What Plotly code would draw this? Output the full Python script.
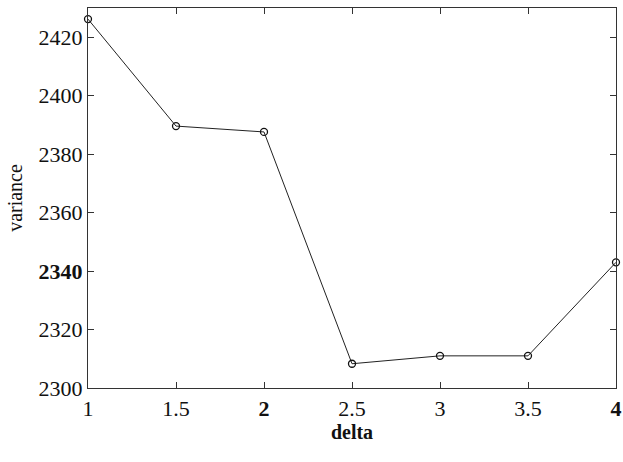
import plotly.graph_objects as go

delta = [1, 1.5, 2, 2.5, 3, 3.5, 4]
variance = [2426.2, 2389.6, 2387.6, 2308.3, 2311.0, 2311.0, 2343.0]

x_tickvals = [1, 1.5, 2, 2.5, 3, 3.5, 4]
x_ticktext = ["1", "1.5", "<b>2</b>", "2.5", "3", "3.5", "<b>4</b>"]
y_tickvals = [2300, 2320, 2340, 2360, 2380, 2400, 2420]
y_ticktext = ["2300", "2320", "<b>2340</b>", "2360", "2380", "2400", "2420"]

fig = go.Figure()
fig.add_trace(go.Scatter(
    x=delta, y=variance, mode="lines+markers",
    line=dict(color="#222222", width=1),
    marker=dict(symbol="circle-open", size=7, color="#111111", line=dict(width=1.3)),
    showlegend=False, cliponaxis=False,
))

SERIF = "Liberation Serif"
font = dict(family=SERIF, size=22, color="#111111")
fig.update_layout(
    width=623, height=462,
    margin=dict(l=88, r=7, t=8, b=74, autoexpand=False),
    paper_bgcolor="white", plot_bgcolor="white",
    font=font,
)
fig.update_xaxes(
    range=[1, 4], tickvals=x_tickvals, ticktext=x_ticktext, automargin=False,
    tickfont=dict(family=SERIF, size=22, color="#111111"),
    showline=True, linecolor="#333333", linewidth=1.2, mirror="ticks",
    ticks="inside", ticklen=6, tickcolor="#333333", showgrid=False, zeroline=False,
    title=dict(text="<b>delta</b>", font=dict(family=SERIF, size=20), standoff=5),
)
fig.update_yaxes(
    range=[2300, 2430], tickvals=y_tickvals, ticktext=y_ticktext, automargin=False,
    tickfont=dict(family=SERIF, size=22, color="#111111"),
    showline=True, linecolor="#333333", linewidth=1.2, mirror="ticks",
    ticks="inside", ticklen=6, tickcolor="#333333", showgrid=False, zeroline=False,
    title=dict(text="variance", font=dict(family=SERIF, size=20), standoff=10),
)
fig.write_html(
    "out.html",
    config={"displayModeBar": False},
    post_script=(
        "document.body.style.margin='0';"
        "document.body.style.overflow='hidden';"
        "document.documentElement.style.overflow='hidden';"
    ),
)
